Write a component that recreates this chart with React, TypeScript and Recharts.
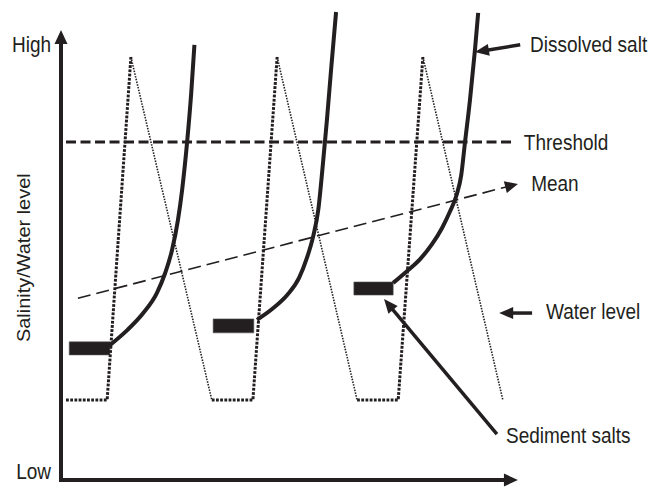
import React from "react";
import {
  ComposedChart, Line, XAxis, YAxis,
  ReferenceLine, ReferenceArea, ReferenceDot,
} from "recharts";

const INK = "#231f20";
const FONT = "'Liberation Sans', Arial, Helvetica, sans-serif";

// water level: flat low, fast fill, slow drain (three cycles)
const waterTime = [1.1, 10.1, 15.3, 33.0, 42.0, 47.3, 64.8, 73.8, 79.2, 96.7];
const waterLevel = [17.8, 17.8, 94, 17.8, 17.8, 94, 17.8, 17.8, 94, 17.8];

// dissolved salt curves, one per drying cycle
const salt1Time = [10.5, 14.5, 18.0, 21.0, 22.8, 24.3, 25.6, 26.5, 27.6, 28.5, 29.2];
const salt1Level = [29.8, 33.3, 37.1, 41.6, 46.0, 51.1, 57.8, 64.4, 75.1, 86.0, 96.7];
const salt2Time = [42.9, 46.2, 49.5, 52.1, 53.8, 55.2, 56.3, 57.3, 58.2, 59.1, 60.2];
const salt2Level = [35.6, 38.0, 41.1, 44.9, 49.3, 54.2, 60.0, 70.0, 80.0, 91.1, 104.0];
const salt3Time = [72.7, 75.7, 78.6, 81.2, 83.4, 85.1, 86.5, 87.6, 88.4, 89.5, 90.6, 91.3];
const salt3Level = [43.8, 46.4, 49.1, 52.4, 56.0, 59.6, 63.1, 67.8, 74.9, 84.4, 95.6, 103.8];

// sediment salt blocks [start, end] and [bottom, top]
const sedimentTime = [[1.8, 10.7], [33.3, 42.2], [64.1, 72.7]];
const sedimentLevel = [[27.8, 30.7], [32.7, 35.8], [41.1, 44.0]];

const threshold = 75.1;
const thresholdSpan = [1.1, 98.7];
const meanFrom = [3.7, 40.4];
const meanTo = [100, 65.8];

const yTicks = [1.8, 96.8];
const yTickLabels = ["Low", "High"];

const noteText = ["Dissolved salt", "Threshold", "Mean", "Water level", "Sediment salts"];
const noteX = [102.65, 101.3, 102.9, 106.15, 97.4];
const noteY = [95.1, 73.3, 64.2, 35.8, 8.2];

const pointerFrom = [[100.5, 96.7], [103.1, 37.1], [95.4, 10.2]];
const pointerTo = [[90.6, 95.1], [95.9, 37.1], [70.7, 40.2]];

const toPoints = (xs: number[], ys: number[]) => xs.map((x, i) => ({ x, y: ys[i] }));

const water = toPoints(waterTime, waterLevel);
const filling = [0, 1, 2].flatMap((c) => [
  water[3 * c], water[3 * c + 1], water[3 * c + 2], { x: water[3 * c + 2].x, y: null },
]);
const draining = [0, 1, 2].flatMap((c) => [
  water[3 * c + 2], water[3 * c + 3], { x: water[3 * c + 3].x, y: null },
]);
const saltCurves = [
  toPoints(salt1Time, salt1Level),
  toPoints(salt2Time, salt2Level),
  toPoints(salt3Time, salt3Level),
];

function Arrow({ x1, y1, x2, y2, width = 3, head = 14, spread = 6, dash }: any) {
  const dx = x2 - x1;
  const dy = y2 - y1;
  const len = Math.hypot(dx, dy) || 1;
  const ux = dx / len;
  const uy = dy / len;
  const bx = x2 - ux * head;
  const by = y2 - uy * head;
  const px = -uy * spread;
  const py = ux * spread;
  return (
    <g>
      <line
        x1={x1} y1={y1} x2={bx + ux * 2} y2={by + uy * 2}
        stroke={INK} strokeWidth={width} strokeDasharray={dash}
      />
      <polygon points={`${x2},${y2} ${bx + px},${by + py} ${bx - px},${by - py}`} fill={INK} />
    </g>
  );
}

function Note({ cx, cy, text }: any) {
  return (
    <text
      transform={`translate(${cx},${cy}) scale(1,1.14)`}
      fontFamily={FONT} fontSize={19} fill={INK}
    >
      {text}
    </text>
  );
}

function LevelTick({ x, y, payload }: any) {
  const label = yTickLabels[yTicks.indexOf(payload.value)];
  return (
    <text
      transform={`translate(${x - 10},${y + 7.5}) scale(1,1.14)`}
      textAnchor="end" fontFamily={FONT} fontSize={19} fill={INK}
    >
      {label}
    </text>
  );
}

function AxisTitle({ viewBox }: any) {
  const cx = viewBox.x + 29.7;
  const cy = viewBox.y + viewBox.height * 0.534;
  return (
    <text
      transform={`translate(${cx},${cy}) scale(1,1.14) rotate(-90)`}
      textAnchor="middle" fontFamily={FONT} fontSize={17.5} fill={INK}
    >
      Salinity/Water level
    </text>
  );
}

export default function App() {
  return (
    <div style={{ position: "absolute", left: 0, top: 0, background: "#fff" }}>
      <ComposedChart width={658} height={487} margin={{ top: 3, right: 3, bottom: 7, left: 0 }}>
        <XAxis type="number" dataKey="x" domain={[0, 130]} allowDataOverflow hide />
        <YAxis
          type="number"
          domain={[0, 106]}
          allowDataOverflow
          ticks={yTicks}
          tick={<LevelTick />}
          tickLine={false}
          axisLine={false}
          tickSize={0}
          tickMargin={0}
          width={61}
          label={<AxisTitle />}
        />

        {sedimentTime.map((t, i) => (
          <ReferenceArea
            key={`sed-${i}`}
            x1={t[0]} x2={t[1]}
            y1={sedimentLevel[i][0]} y2={sedimentLevel[i][1]}
            fill={INK} fillOpacity={1} stroke="#555" strokeWidth={0.6}
          />
        ))}

        <ReferenceLine
          segment={[{ x: thresholdSpan[0], y: threshold }, { x: thresholdSpan[1], y: threshold }]}
          stroke={INK} strokeWidth={3} strokeDasharray="10 4.5"
        />
        <ReferenceLine
          segment={[{ x: meanFrom[0], y: meanFrom[1] }, { x: meanTo[0], y: meanTo[1] }]}
          shape={(p: any) => (
            <Arrow x1={p.x1} y1={p.y1} x2={p.x2} y2={p.y2} width={1.6} head={13} spread={6} dash="13 6" />
          )}
        />

        <Line
          data={filling} dataKey="y" type="linear"
          stroke={INK} strokeWidth={3} strokeDasharray="2.8 1.4"
          dot={false} activeDot={false} isAnimationActive={false}
        />
        <Line
          data={draining} dataKey="y" type="linear"
          stroke={INK} strokeWidth={1.6} strokeDasharray="1.5 1.3"
          dot={false} activeDot={false} isAnimationActive={false}
        />
        {saltCurves.map((d, i) => (
          <Line
            key={`salt-${i}`}
            data={d} dataKey="y" type="monotone"
            stroke={INK} strokeWidth={4}
            dot={false} activeDot={false} isAnimationActive={false}
          />
        ))}

        {/* axes with arrow heads */}
        <ReferenceLine
          segment={[{ x: 0, y: 0 }, { x: 0, y: 100 }]}
          shape={(p: any) => (
            <Arrow x1={p.x1} y1={p.y1 + 2} x2={p.x2} y2={p.y2} width={4} head={14} spread={6.5} />
          )}
        />
        <ReferenceLine
          segment={[{ x: 0, y: 0 }, { x: 100, y: 0 }]}
          shape={(p: any) => (
            <Arrow x1={p.x1 - 2} y1={p.y1} x2={p.x2} y2={p.y2} width={4} head={14} spread={6.5} />
          )}
        />

        {pointerFrom.map((f, i) => (
          <ReferenceLine
            key={`ptr-${i}`}
            segment={[{ x: f[0], y: f[1] }, { x: pointerTo[i][0], y: pointerTo[i][1] }]}
            shape={(p: any) => (
              <Arrow x1={p.x1} y1={p.y1} x2={p.x2} y2={p.y2} width={3.5} head={14} spread={6} />
            )}
          />
        ))}

        {noteText.map((t, i) => (
          <ReferenceDot
            key={`note-${i}`}
            x={noteX[i]} y={noteY[i]} r={0}
            shape={(p: any) => <Note cx={p.cx} cy={p.cy} text={t} />}
          />
        ))}
      </ComposedChart>
    </div>
  );
}
